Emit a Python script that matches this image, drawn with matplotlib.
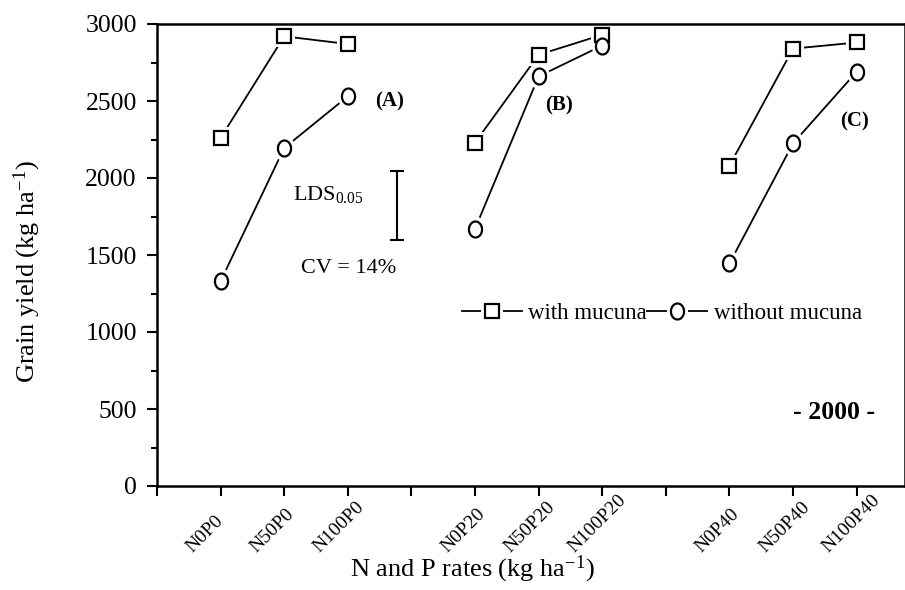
import matplotlib
matplotlib.use("Agg")
import matplotlib.pyplot as plt
import numpy as np
from matplotlib.path import Path
from matplotlib.lines import Line2D
from matplotlib.transforms import ScaledTranslation

plt.rcParams['font.family'] = ['Liberation Serif', 'DejaVu Serif']
plt.rcParams['mathtext.fontset'] = 'custom'
plt.rcParams['mathtext.rm'] = 'Liberation Serif'
plt.rcParams['mathtext.it'] = 'Liberation Serif:italic'
plt.rcParams['mathtext.bf'] = 'Liberation Serif:bold'

# ---- data ----
groups = ["A", "B", "C"]
treatments = ["N0P0", "N50P0", "N100P0", "N0P20", "N50P20", "N100P20", "N0P40", "N50P40", "N100P40"]
tick_pos = [1, 2, 3, 5, 6, 7, 9, 10, 11]
with_mucuna = [2260, 2920, 2870, 2230, 2800, 2930, 2080, 2840, 2880]
without_mucuna = [1330, 2195, 2530, 1670, 2660, 2860, 1445, 2225, 2690]
lsd_top, lsd_bottom = 2045, 1600

# ellipse marker (taller than wide)
t = np.linspace(0, 2 * np.pi, 60)
ell = Path(np.column_stack([0.82 * np.cos(t), np.sin(t)]), closed=True)

fig = plt.figure(figsize=(9.05, 5.9), dpi=100)
ax = fig.add_axes([157 / 905, 104 / 590, 1 - 157 / 905, 462 / 590])

ms_sq = 9.5
ms_ci = 11.5
for g in range(3):
    xs = tick_pos[3 * g:3 * g + 3]
    for ys, mk, ms in [(with_mucuna[3 * g:3 * g + 3], 's', ms_sq),
                       (without_mucuna[3 * g:3 * g + 3], ell, ms_ci)]:
        ax.plot(xs, ys, color='black', lw=1.3, zorder=1.5)
        ax.plot(xs, ys, ls='none', marker=mk, ms=ms + 7, mfc='white', mec='white',
                mew=0, zorder=2)
        ax.plot(xs, ys, ls='none', marker=mk, ms=ms, mfc='white', mec='black',
                mew=1.6, zorder=3)

ax.set_xlim(0, 11.76)
ax.set_ylim(0, 3000)
ax.set_xticks(range(0, 12))
ax.set_xticklabels([''] * 12)
# rotated treatment labels, anchored at their lower-left corner
lab_tr = ax.get_xaxis_transform() + ScaledTranslation(-28 / 100, -67 / 100, fig.dpi_scale_trans)
for p, lab in zip(tick_pos, treatments):
    ax.text(p, 0, lab, transform=lab_tr, rotation=45, rotation_mode='anchor',
            ha='left', va='baseline', fontsize=14)

ax.set_yticks(range(0, 3001, 500))
ax.set_yticks(range(250, 3000, 500), minor=True)
ax.tick_params(axis='y', which='major', direction='out', length=7.5, width=1.5, labelsize=18.5, pad=7)
ax.tick_params(axis='y', which='minor', direction='out', length=4.5, width=1.5)
ax.tick_params(axis='x', which='major', direction='out', length=7.5, width=1.5)
for s in ax.spines.values():
    s.set_linewidth(1.8)

ax.set_ylabel("Grain yield (kg ha$^{-1}$)", fontsize=19)
ax.yaxis.set_label_coords(-0.153, 0.463)
ax.set_xlabel("N and P rates (kg ha$^{-1}$)", fontsize=19)
ax.xaxis.set_label_coords(0.421, -0.147)

# annotations
ax.text(3.66, 2500, "(A)", fontsize=15, fontweight='bold', ha='center', va='center')
ax.text(6.32, 2474, "(B)", fontsize=15, fontweight='bold', ha='center', va='center')
ax.text(10.96, 2370, "(C)", fontsize=15, fontweight='bold', ha='center', va='center')
ax.text(2.14, 1890, "LDS$_{0.05}$", fontsize=16, ha='left', va='center')
ax.errorbar([3.77], [(lsd_top + lsd_bottom) / 2], yerr=[(lsd_top - lsd_bottom) / 2],
            color='black', lw=1.5, capsize=5, capthick=1.5, fmt='none')
ax.text(2.26, 1415, "CV = 14%", fontsize=16, ha='left', va='center')
ax.text(10.64, 480, "- 2000 -", fontsize=18.5, fontweight='bold', ha='center', va='center')


def handle(mk, ms):
    line = Line2D([], [], color='black', lw=1.3)
    halo = Line2D([], [], ls='none', marker=mk, ms=ms + 7, mfc='white', mec='white', mew=0)
    mark = Line2D([], [], ls='none', marker=mk, ms=ms, mfc='white', mec='black', mew=1.6)
    return (line, halo, mark)


ax.legend([handle('s', ms_sq), handle(ell, ms_ci)], ["with mucuna", "without mucuna"],
          ncol=2, frameon=False, fontsize=16.5, loc='center', bbox_to_anchor=(0.675, 0.374),
          handlelength=2.6, columnspacing=0.0, handletextpad=0.3)

fig.savefig("out.png", dpi=100)
